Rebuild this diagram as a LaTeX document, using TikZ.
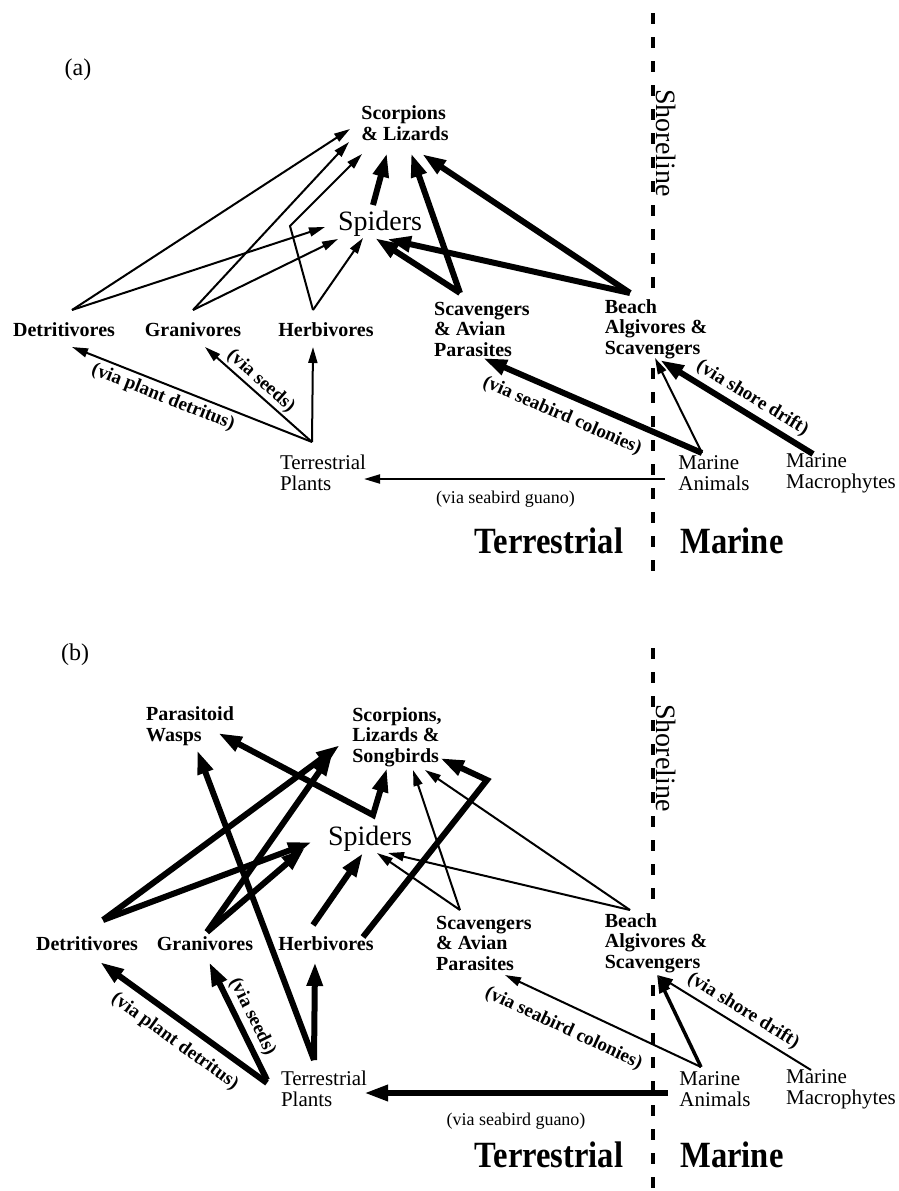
\documentclass[tikz,border=0pt]{standalone}
\usepackage{fontspec}
\setmainfont{Liberation Serif}
\newfontfamily\bigcondfont[FakeStretch=0.88]{Liberation Serif}
\usetikzlibrary{arrows.meta}
\begin{document}
\tikzset{
  lbl/.style={font=\fontsize{20}{20.5}\selectfont\bfseries, align=left, inner sep=0pt},
  spid/.style={font=\fontsize{28}{30}\selectfont, inner sep=0pt},
  sml/.style={font=\fontsize{21}{21}\selectfont, align=left, inner sep=0pt},
  bigl/.style={font=\fontsize{37}{40}\selectfont\bigcondfont\bfseries, inner sep=0pt},
  tag/.style={font=\fontsize{24}{26}\selectfont, inner sep=0pt},
  via/.style={font=\fontsize{19}{19}\selectfont\bfseries, sloped, inner sep=0pt},
  gua/.style={font=\fontsize{18}{18}\selectfont, inner sep=0pt},
  tar/.style={line width=2pt, -{Triangle[length=16pt,width=9pt]}},
  Tar/.style={line width=6pt, -{Triangle[length=24pt,width=15pt]}},
  mar/.style={line width=3.5pt, -{Triangle[length=18pt,width=11pt]}},
  shore/.style={line width=3.5pt, dash pattern=on 11pt off 13pt},
}
\begin{tikzpicture}[x=1pt,y=-1pt]
\useasboundingbox (0,0) rectangle (899,1191);
\fill[white] (0,0) rectangle (899,1191);
% shorelines (interrupted behind the beach labels)
\draw[shore] (653,13) -- (653,290);
\draw[shore] (653,368) -- (653,582);
\draw[shore] (653,648) -- (653,902);
\draw[shore] (653,985) -- (653,1191);

% ---------------- panel (a) ----------------
\node[tag] (tagA) at (78,70) {(a)};
\node[lbl] (SLa) at (405,123) {Scorpions\\\& Lizards};
\node[spid] (SPa) at (380,224) {Spiders};
\node[lbl] (DETa) at (64,330) {Detritivores};
\node[lbl] (GRAa) at (193,330) {Granivores};
\node[lbl] (HERa) at (326,330) {Herbivores};
\node[lbl] (SCAVa) at (482,329) {Scavengers\\\& Avian\\Parasites};
\node[lbl] (BEAa) at (656,329) {Beach\\Algivores \&\\Scavengers};
\node[sml] (TPa) at (323,473) {Terrestrial\\Plants};
\node[sml] (MAa) at (714,473) {Marine\\Animals};
\node[sml] (MMa) at (841,473) {Marine\\Macrophytes};
\node[bigl] (TERa) at (549,541) {Terrestrial};
\node[bigl] (MARa) at (732,541) {Marine};
\node[spid, rotate=-90] (SHa) at (666,143) {Shoreline};

\draw[tar] ([shift={(8,-20)}]DETa.center) -- ([shift={(-55,6)}]SLa.center);
\draw[tar] ([shift={(8,-20)}]DETa.center) -- ([shift={(-55,3)}]SPa.center);
\draw[tar] ([shift={(0,-20)}]GRAa.center) -- ([shift={(-56,19)}]SLa.center);
\draw[tar] ([shift={(0,-20)}]GRAa.center) -- ([shift={(-42,15)}]SPa.center);
\draw[tar] ([shift={(-13,-20)}]HERa.center) -- (290,226) -- ([shift={(-43,31)}]SLa.center);
\draw[tar] ([shift={(-13,-20)}]HERa.center) -- ([shift={(-17,14)}]SPa.center);
\draw[Tar] ([shift={(-7,-19)}]SPa.center) -- ([shift={(-18,30)}]SLa.center);
\draw[Tar] ([shift={(-22,-36)}]SCAVa.center) -- ([shift={(6,30)}]SLa.center);
\draw[Tar] ([shift={(-22,-36)}]SCAVa.center) -- ([shift={(-5,14)}]SPa.center);
\draw[Tar] ([shift={(-26,-36)}]BEAa.center) -- ([shift={(17,31)}]SLa.center);
\draw[Tar] ([shift={(-26,-36)}]BEAa.center) -- ([shift={(7,15)}]SPa.center);
\draw[tar] ([shift={(-11,-31)}]TPa.center) -- node[via,below=4pt,pos=0.6]{(via plant detritus)} ([shift={(8,17)}]DETa.center);
\draw[tar] ([shift={(-11,-31)}]TPa.center) -- node[via,above=2pt,pos=0.55]{(via seeds)} ([shift={(12,17)}]GRAa.center);
\draw[tar] ([shift={(-11,-31)}]TPa.center) -- ([shift={(-13,17)}]HERa.center);
\draw[tar] ([shift={(-49,6)}]MAa.center) -- node[gua,below=11pt,pos=0.53]{(via seabird guano)} ([shift={(41,6)}]TPa.center);
\draw[Tar] ([shift={(-12,-20)}]MAa.center) -- node[via,below=10pt,pos=0.6]{(via seabird colonies)} ([shift={(1,29)}]SCAVa.center);
\draw[tar] ([shift={(-12,-20)}]MAa.center) -- ([shift={(-1,29)}]BEAa.center);
\draw[Tar] ([shift={(-28,-19)}]MMa.center) -- node[via,above=4pt,pos=0.45]{(via shore drift)} ([shift={(4,31)}]BEAa.center);

% ---------------- panel (b) ----------------
\node[tag] (tagB) at (75,655) {(b)};
\node[lbl] (PWb) at (190,726) {Parasitoid\\Wasps};
\node[lbl] (SLb) at (397,737) {Scorpions,\\Lizards \&\\Songbirds};
\node[spid] (SPb) at (370,839) {Spiders};
\node[lbl] (DETb) at (87,944) {Detritivores};
\node[lbl] (GRAb) at (205,944) {Granivores};
\node[lbl] (HERb) at (326,944) {Herbivores};
\node[lbl] (SCAVb) at (484,943) {Scavengers\\\& Avian\\Parasites};
\node[lbl] (BEAb) at (656,943) {Beach\\Algivores \&\\Scavengers};
\node[sml] (TPb) at (324,1089) {Terrestrial\\Plants};
\node[sml] (MAb) at (715,1089) {Marine\\Animals};
\node[sml] (MMb) at (841,1089) {Marine\\Macrophytes};
\node[bigl] (TERb) at (549,1155) {Terrestrial};
\node[bigl] (MARb) at (732,1155) {Marine};
\node[spid, rotate=-90] (SHb) at (666,758) {Shoreline};

\draw[Tar] ([shift={(16,-24)}]DETb.center) -- ([shift={(-57,8)}]SLb.center);
\draw[Tar] ([shift={(16,-24)}]DETb.center) -- ([shift={(-58,3)}]SPb.center);
\draw[Tar] ([shift={(2,-12)}]GRAb.center) -- ([shift={(-64,15)}]SLb.center);
\draw[Tar] ([shift={(2,-12)}]GRAb.center) -- ([shift={(-65,9)}]SPb.center);
\draw[Tar] ([shift={(-13,-19)}]HERb.center) -- ([shift={(-7,14)}]SPb.center);
\draw[Tar] ([shift={(37,-7)}]HERb.center) -- (487,780) -- ([shift={(43,21)}]SLb.center);
\draw[Tar, {Triangle[length=24pt,width=15pt]}-{Triangle[length=24pt,width=15pt]}] ([shift={(28,7)}]PWb.center) -- ([shift={(3,-24)}]SPb.center) -- ([shift={(-10,31)}]SLb.center);
\draw[Tar] ([shift={(-10,-29)}]TPb.center) -- ([shift={(7,24)}]PWb.center);
\draw[Tar] ([shift={(-57,-6)}]TPb.center) -- node[via,below=9pt,pos=0.48]{(via plant detritus)} ([shift={(13,18)}]DETb.center);
\draw[Tar] ([shift={(-57,-9)}]TPb.center) -- node[via,above=3pt,pos=0.48]{(via seeds)} ([shift={(4,18)}]GRAb.center);
\draw[Tar] ([shift={(-10,-29)}]TPb.center) -- ([shift={(-11,18)}]HERb.center);
\draw[tar] ([shift={(-24,-33)}]SCAVb.center) -- ([shift={(16,33)}]SLb.center);
\draw[tar] ([shift={(-24,-33)}]SCAVb.center) -- ([shift={(7,14)}]SPb.center);
\draw[tar] ([shift={(-26,-33)}]BEAb.center) -- ([shift={(28,33)}]SLb.center);
\draw[tar] ([shift={(-26,-33)}]BEAb.center) -- ([shift={(18,14)}]SPb.center);
\draw[Tar] ([shift={(-47,4)}]MAb.center) -- node[gua,below=17pt,pos=0.5]{(via seabird guano)} ([shift={(40,4)}]TPb.center);
\draw[tar] ([shift={(-14,-22)}]MAb.center) -- node[via,below=14pt,pos=0.65]{(via seabird colonies)} ([shift={(21,32)}]SCAVb.center);
\draw[mar] ([shift={(-14,-22)}]MAb.center) -- ([shift={(1,32)}]BEAb.center);
\draw[tar] ([shift={(-30,-19)}]MMb.center) -- node[via,above=5pt,pos=0.49]{(via shore drift)} ([shift={(1,32)}]BEAb.center);
\end{tikzpicture}
\end{document}
